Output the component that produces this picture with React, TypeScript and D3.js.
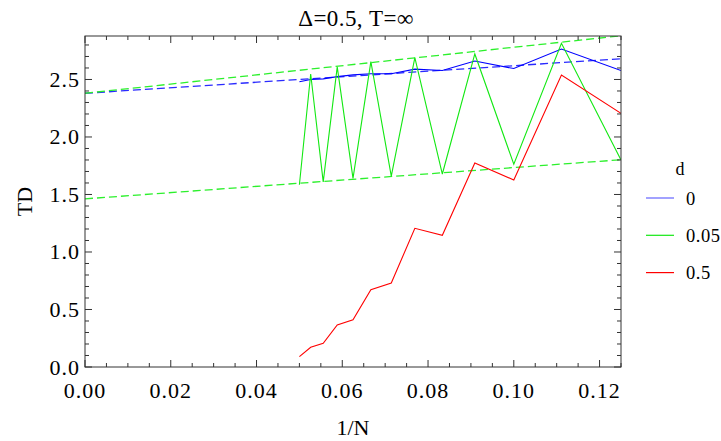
import React from "react";
import * as d3 from "d3";

// System sizes N; the horizontal coordinate is 1/N
const sizes = [20, 19, 18, 17, 16, 15, 14, 13, 12, 11, 10, 9, 8];

// TD for each value of d
const tdD0 = [2.48, 2.50, 2.505, 2.525, 2.54, 2.55, 2.55, 2.59, 2.578, 2.66, 2.595, 2.765, 2.578];
const tdD005 = [1.585, 2.548, 1.61, 2.61, 1.64, 2.655, 1.66, 2.69, 1.678, 2.722, 1.763, 2.815, 1.80];
const tdD05 = [0.09, 0.171, 0.206, 0.365, 0.411, 0.672, 0.73, 1.206, 1.145, 1.774, 1.626, 2.539, 2.206];

// Linear extrapolations TD = a + b/N
const fitIntercepts = [2.38, 2.38, 1.462];
const fitSlopes = [2.4, 4.0, 2.72];
const fitColors = ["#2a2aff", "#2cf02c", "#2cf02c"];

const legendTitle = "d";
const legendLabels = ["0", "0.05", "0.5"];
const seriesColors = ["#0000ff", "#12e812", "#ff0000"];

const xTicks = [0, 0.02, 0.04, 0.06, 0.08, 0.1, 0.12];
const yTicks = [0, 0.5, 1.0, 1.5, 2.0, 2.5];

const W = 721;
const H = 441;
const L = 85;
const R = 621;
const T = 36;
const B = 367;
const FONT = "'Liberation Serif', 'DejaVu Serif', serif";

export default function App() {
  const x = d3.scaleLinear().domain([0, 0.125]).range([L, R]);
  const y = d3.scaleLinear().domain([0, 2.878]).range([B, T]);
  const inv = sizes.map((n) => 1 / n);
  const series = [tdD0, tdD005, tdD05];

  const line = d3
    .line<number>()
    .x((_, i) => x(inv[i]))
    .y((v) => y(v));

  const xMinor = d3.range(0, 0.1251, 0.005);
  const yMinor = d3.range(0, 2.88, 0.1);
  const isMajor = (v: number, step: number) =>
    Math.abs(v / step - Math.round(v / step)) < 1e-6;

  const frame = "#333";

  return (
    <svg
      width={W}
      height={H}
      style={{ position: "absolute", left: 0, top: 0, background: "#fff" }}
      fontFamily={FONT}
    >
      <defs>
        <clipPath id="plot">
          <rect x={L} y={T} width={R - L} height={B - T} />
        </clipPath>
      </defs>

      <text x={(L + R) / 2 + 3} y={26} textAnchor="middle" fontSize={23} letterSpacing={0.4}>
        Δ=0.5, T=∞
      </text>

      <g clipPath="url(#plot)">
        {fitIntercepts.map((a, i) => (
          <line
            key={"fit" + i}
            x1={x(0)}
            y1={y(a)}
            x2={x(0.125)}
            y2={y(a + fitSlopes[i] * 0.125)}
            stroke={fitColors[i]}
            strokeWidth={1.3}
            strokeDasharray="8,4"
          />
        ))}
        {series.map((s, i) => (
          <path
            key={"s" + i}
            d={line(s) || ""}
            fill="none"
            stroke={seriesColors[i]}
            strokeWidth={1.1}
          />
        ))}
      </g>

      {/* frame ticks, drawn inward on all four sides */}
      {xMinor.map((v, i) => {
        const len = isMajor(v, 0.02) ? 7 : 4;
        const px = x(v);
        return (
          <g key={"xt" + i} stroke={frame} strokeWidth={1}>
            <line x1={px} x2={px} y1={B} y2={B - len} />
            <line x1={px} x2={px} y1={T} y2={T + len} />
          </g>
        );
      })}
      {yMinor.map((v, i) => {
        const len = isMajor(v, 0.5) ? 7 : 4;
        const py = y(v);
        return (
          <g key={"yt" + i} stroke={frame} strokeWidth={1}>
            <line x1={L} x2={L + len} y1={py} y2={py} />
            <line x1={R} x2={R - len} y1={py} y2={py} />
          </g>
        );
      })}
      <rect x={L} y={T} width={R - L} height={B - T} fill="none" stroke={frame} strokeWidth={1} />

      {xTicks.map((v, i) => (
        <text key={"xl" + i} x={x(v)} y={397.5} textAnchor="middle" fontSize={22} letterSpacing={1}>
          {v.toFixed(2)}
        </text>
      ))}
      {yTicks.map((v, i) => (
        <text key={"yl" + i} x={80} y={y(v) + 7.5} textAnchor="end" fontSize={22} letterSpacing={1}>
          {v.toFixed(1)}
        </text>
      ))}

      <text x={(L + R) / 2} y={435} textAnchor="middle" fontSize={22}>
        1/N
      </text>
      <text
        transform={`translate(32, ${(T + B) / 2}) rotate(-90)`}
        textAnchor="middle"
        fontSize={22}
      >
        TD
      </text>

      <text x={680} y={175} textAnchor="middle" fontSize={18}>
        {legendTitle}
      </text>
      {legendLabels.map((lab, i) => {
        const ly = 198 + i * 37.3;
        return (
          <g key={"lg" + i}>
            <line x1={646} x2={674} y1={ly} y2={ly} stroke={seriesColors[i]} strokeWidth={1.2} opacity={i === 0 ? 0.6 : 1} />
            <text x={686} y={ly + 6.5} fontSize={18.5} letterSpacing={0.5}>
              {lab}
            </text>
          </g>
        );
      })}
    </svg>
  );
}
